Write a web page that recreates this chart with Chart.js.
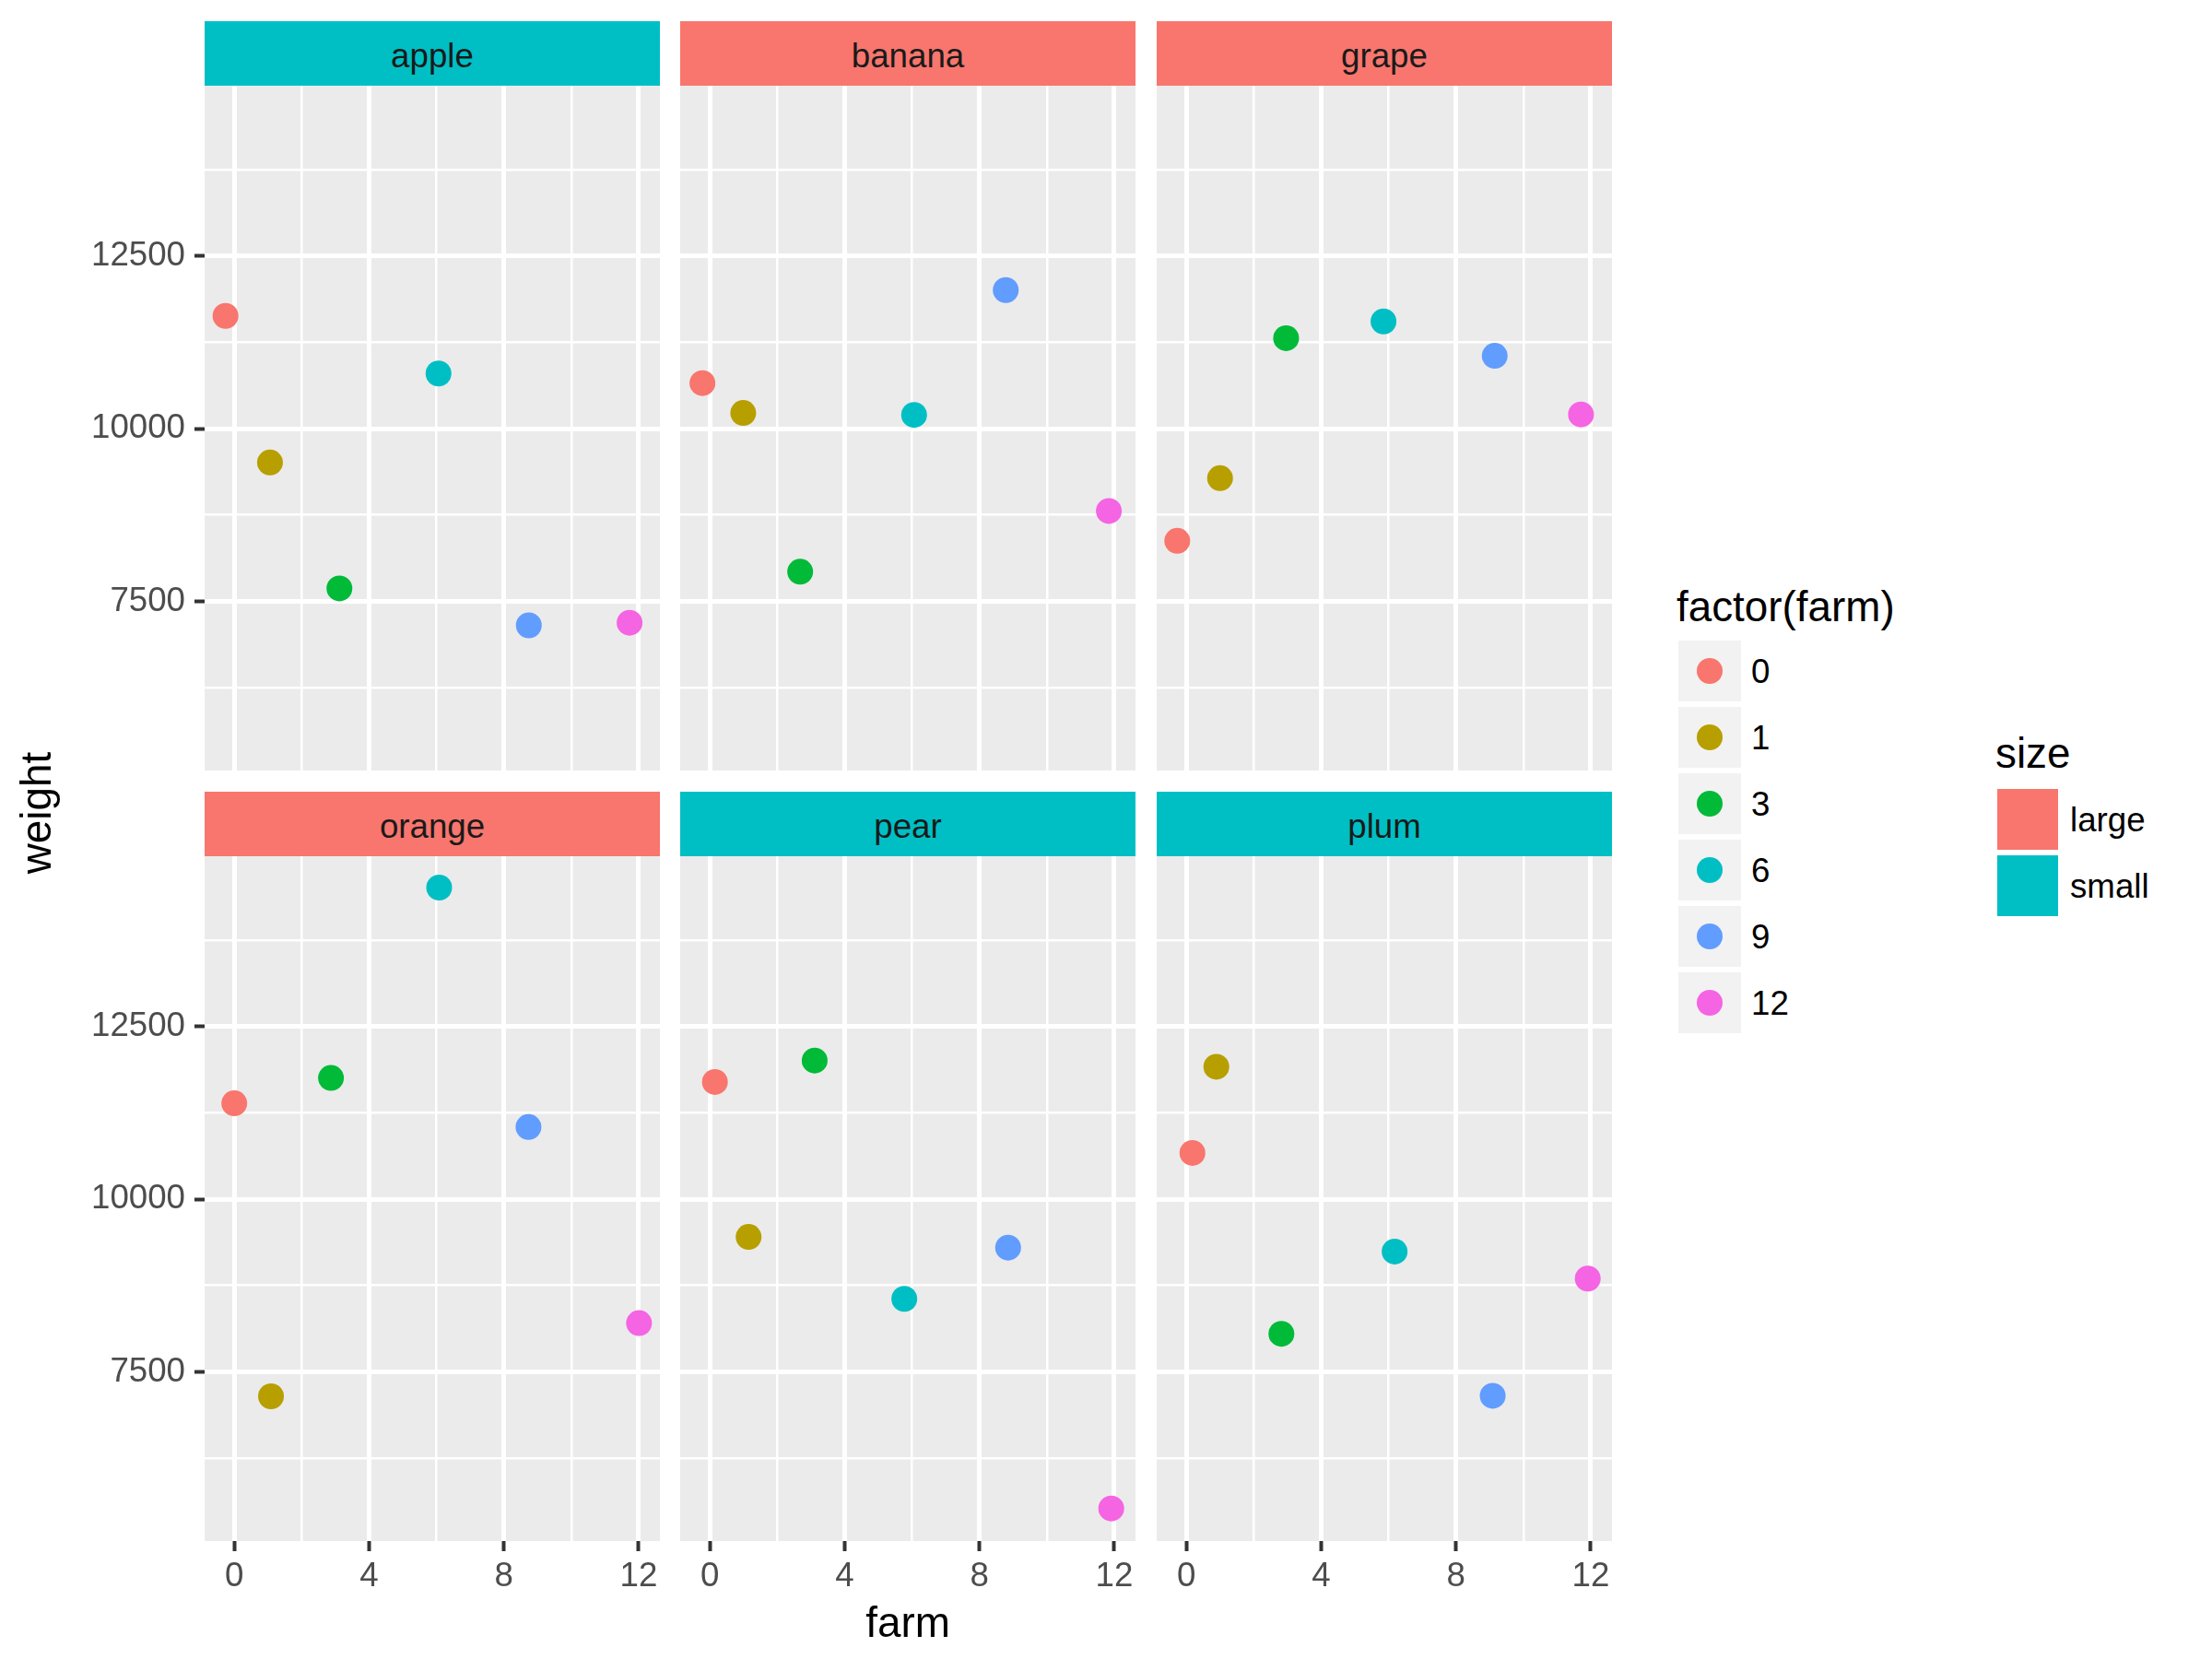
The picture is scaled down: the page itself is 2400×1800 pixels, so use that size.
<!DOCTYPE html>
<html>
<head>
<meta charset="utf-8">
<script src="https://cdn.jsdelivr.net/npm/chart.js@4/dist/chart.umd.min.js"></script>
<style>
  html, body { margin: 0; padding: 0; background: #FFFFFF; }
  body { width: 2400px; height: 1800px; position: relative; overflow: hidden; font-family: "Liberation Sans", Arial, sans-serif; }
  .abs { position: absolute; }
  .strip { position: absolute; height: 70px; line-height: 75px; overflow: hidden; text-align: center; font-size: 36.7px; color: #1A1A1A; }
  .title { position: absolute; font-size: 45.8px; line-height: 46px; color: #000000; white-space: nowrap; }
  .ltxt { position: absolute; font-size: 36.7px; line-height: 66px; height: 66px; color: #000000; white-space: nowrap; }
  canvas { position: absolute; }
</style>
</head>
<body>
<script>
// ---------------- data ----------------
const fruits = ['apple', 'banana', 'grape', 'orange', 'pear', 'plum'];
const fruitSize = ['small', 'large', 'large', 'large', 'small', 'small'];
const farmLevels = ['0', '1', '3', '6', '9', '12'];
const farmColors = ['#F8766D', '#B79F00', '#00BA38', '#00BFC4', '#619CFF', '#F564E3'];
const sizeLevels = ['large', 'small'];
const sizeColors = ['#F8766D', '#00BFC4'];

// jittered farm positions (x) and weights (y), one pair of arrays per fruit
const appleFarm   = [-0.26, 1.06, 3.12, 6.06, 8.74, 11.73];
const appleWeight = [11632, 9510, 7687, 10798, 7152, 7189];
const bananaFarm   = [-0.22, 0.99, 2.68, 6.06, 8.78, 11.84];
const bananaWeight = [10659, 10227, 7928, 10198, 12006, 8807];
const grapeFarm   = [-0.27, 1.00, 2.96, 5.85, 9.15, 11.71];
const grapeWeight = [8375, 9283, 11310, 11552, 11054, 10205];
const orangeFarm   = [0.00, 1.09, 2.87, 6.08, 8.73, 12.01];
const orangeWeight = [11387, 7145, 11754, 14511, 11044, 8205];
const pearFarm   = [0.15, 1.15, 3.11, 5.77, 8.85, 11.91];
const pearWeight = [11697, 9453, 12007, 8556, 9298, 5522];
const plumFarm   = [0.18, 0.89, 2.82, 6.18, 9.09, 11.91];
const plumWeight = [10669, 11917, 8050, 9241, 7153, 8850];

const farmX = [appleFarm, bananaFarm, grapeFarm, orangeFarm, pearFarm, plumFarm];
const weightY = [appleWeight, bananaWeight, grapeWeight, orangeWeight, pearWeight, plumWeight];

const xTicks = [0, 2, 4, 6, 8, 10, 12];
const xMajorTicks = [0, 4, 8, 12];
const yTicks = [6250, 7500, 8750, 10000, 11250, 12500, 13750];
const yMajorTicks = [7500, 10000, 12500];
const xRange = [-0.88, 12.63];
const yRange = [5050, 14965];

const xTitle = 'farm';
const yTitle = 'weight';
const colourTitle = 'factor(farm)';
const fillTitle = 'size';

// ---------------- layout ----------------
const colLeft = [222, 738, 1255];
const panelW = 494;
const rowTop = [93, 929];
const panelH = 743;
const stripH = 70;
const yAxisW = 222;
const xAxisH = 110;
const FONT = 'Liberation Sans';

const bgPlugin = {
  id: 'panelBg',
  beforeDraw(chart) {
    const a = chart.chartArea;
    const ctx = chart.ctx;
    ctx.save();
    ctx.fillStyle = '#EBEBEB';
    ctx.fillRect(a.left, a.top, a.right - a.left, a.bottom - a.top);
    ctx.restore();
  }
};

function el(cls, text, style) {
  const d = document.createElement('div');
  d.className = cls;
  if (text !== null) d.textContent = text;
  Object.assign(d.style, style);
  document.body.appendChild(d);
  return d;
}

fruits.forEach((fruit, i) => {
  const r = Math.floor(i / 3), c = i % 3;
  const showY = c === 0, showX = r === 1;
  const left = showY ? 0 : colLeft[c];
  const w = showY ? colLeft[0] + panelW : panelW;
  const h = showX ? panelH + xAxisH : panelH;

  // strip
  el('strip', fruit, {
    left: colLeft[c] + 'px', top: (rowTop[r] - stripH) + 'px', width: panelW + 'px',
    background: sizeColors[sizeLevels.indexOf(fruitSize[i])]
  });

  const cv = document.createElement('canvas');
  cv.width = w; cv.height = h;
  cv.style.left = left + 'px'; cv.style.top = rowTop[r] + 'px';
  cv.style.width = w + 'px'; cv.style.height = h + 'px';
  document.body.appendChild(cv);

  const pts = farmX[i].map((x, j) => ({ x: x, y: weightY[i][j] }));

  new Chart(cv, {
    type: 'scatter',
    data: {
      datasets: [{
        label: fruit,
        data: pts,
        pointRadius: 14,
        pointHoverRadius: 14,
        pointBackgroundColor: farmColors,
        pointBorderWidth: 0,
        borderWidth: 0,
        showLine: false
      }]
    },
    options: {
      responsive: false,
      animation: false,
      devicePixelRatio: 1,
      events: [],
      layout: { padding: 0, autoPadding: false },
      plugins: { legend: { display: false }, tooltip: { enabled: false } },
      scales: {
        x: {
          type: 'linear',
          min: xRange[0], max: xRange[1],
          afterBuildTicks: s => { s.ticks = xTicks.map(v => ({ value: v })); },
          afterFit: s => { s.height = showX ? xAxisH : 0; s.paddingLeft = 0; s.paddingRight = 0; },
          border: { display: false },
          grid: {
            color: '#FFFFFF',
            lineWidth: ctx => (ctx.tick && xMajorTicks.includes(ctx.tick.value)) ? 5 : 2.5,
            drawTicks: showX,
            tickLength: 11,
            tickWidth: 4,
            tickColor: ctx => (ctx.tick && xMajorTicks.includes(ctx.tick.value)) ? '#333333' : 'rgba(0,0,0,0)'
          },
          ticks: {
            display: showX,
            autoSkip: false,
            maxRotation: 0,
            padding: 6,
            color: '#4D4D4D',
            font: { family: FONT, size: 36.7 },
            callback: v => xMajorTicks.includes(v) ? String(v) : ''
          }
        },
        y: {
          type: 'linear',
          min: yRange[0], max: yRange[1],
          afterBuildTicks: s => { s.ticks = yTicks.map(v => ({ value: v })); },
          afterFit: s => { s.width = showY ? yAxisW : 0; s.paddingTop = 0; s.paddingBottom = 0; },
          border: { display: false },
          grid: {
            color: '#FFFFFF',
            lineWidth: ctx => (ctx.tick && yMajorTicks.includes(ctx.tick.value)) ? 5 : 2.5,
            drawTicks: showY,
            tickLength: 11,
            tickWidth: 4,
            tickColor: ctx => (ctx.tick && yMajorTicks.includes(ctx.tick.value)) ? '#333333' : 'rgba(0,0,0,0)'
          },
          ticks: {
            display: showY,
            autoSkip: false,
            padding: 10,
            color: '#4D4D4D',
            font: { family: FONT, size: 36.7 },
            callback: v => yMajorTicks.includes(v) ? String(v) : ''
          }
        }
      }
    },
    plugins: [bgPlugin]
  });
});

// axis titles
el('title', xTitle, { left: (985 - 150) + 'px', top: '1738px', width: '300px', textAlign: 'center' });
el('title', yTitle, { left: (40 - 150) + 'px', top: (882 - 23) + 'px', width: '300px', textAlign: 'center', transform: 'rotate(-90deg)', transformOrigin: '50% 50%' });

// colour legend
el('title', colourTitle, { left: '1819px', top: '636px' });
farmLevels.forEach((lv, k) => {
  const top = 695 + k * 72;
  el('abs', null, { left: '1821px', top: top + 'px', width: '68px', height: '66px', background: '#F2F2F2' });
  el('abs', null, { left: (1855 - 14) + 'px', top: (top + 33 - 14) + 'px', width: '28px', height: '28px', borderRadius: '50%', background: farmColors[k] });
  el('ltxt', lv, { left: '1900px', top: (top + 1) + 'px' });
});

// fill legend
el('title', fillTitle, { left: '2165px', top: '795px' });
sizeLevels.forEach((lv, k) => {
  const top = 856 + k * 72;
  el('abs', null, { left: '2167px', top: top + 'px', width: '66px', height: '66px', background: sizeColors[k] });
  el('ltxt', lv, { left: '2246px', top: (top + 1) + 'px' });
});
</script>
</body>
</html>
